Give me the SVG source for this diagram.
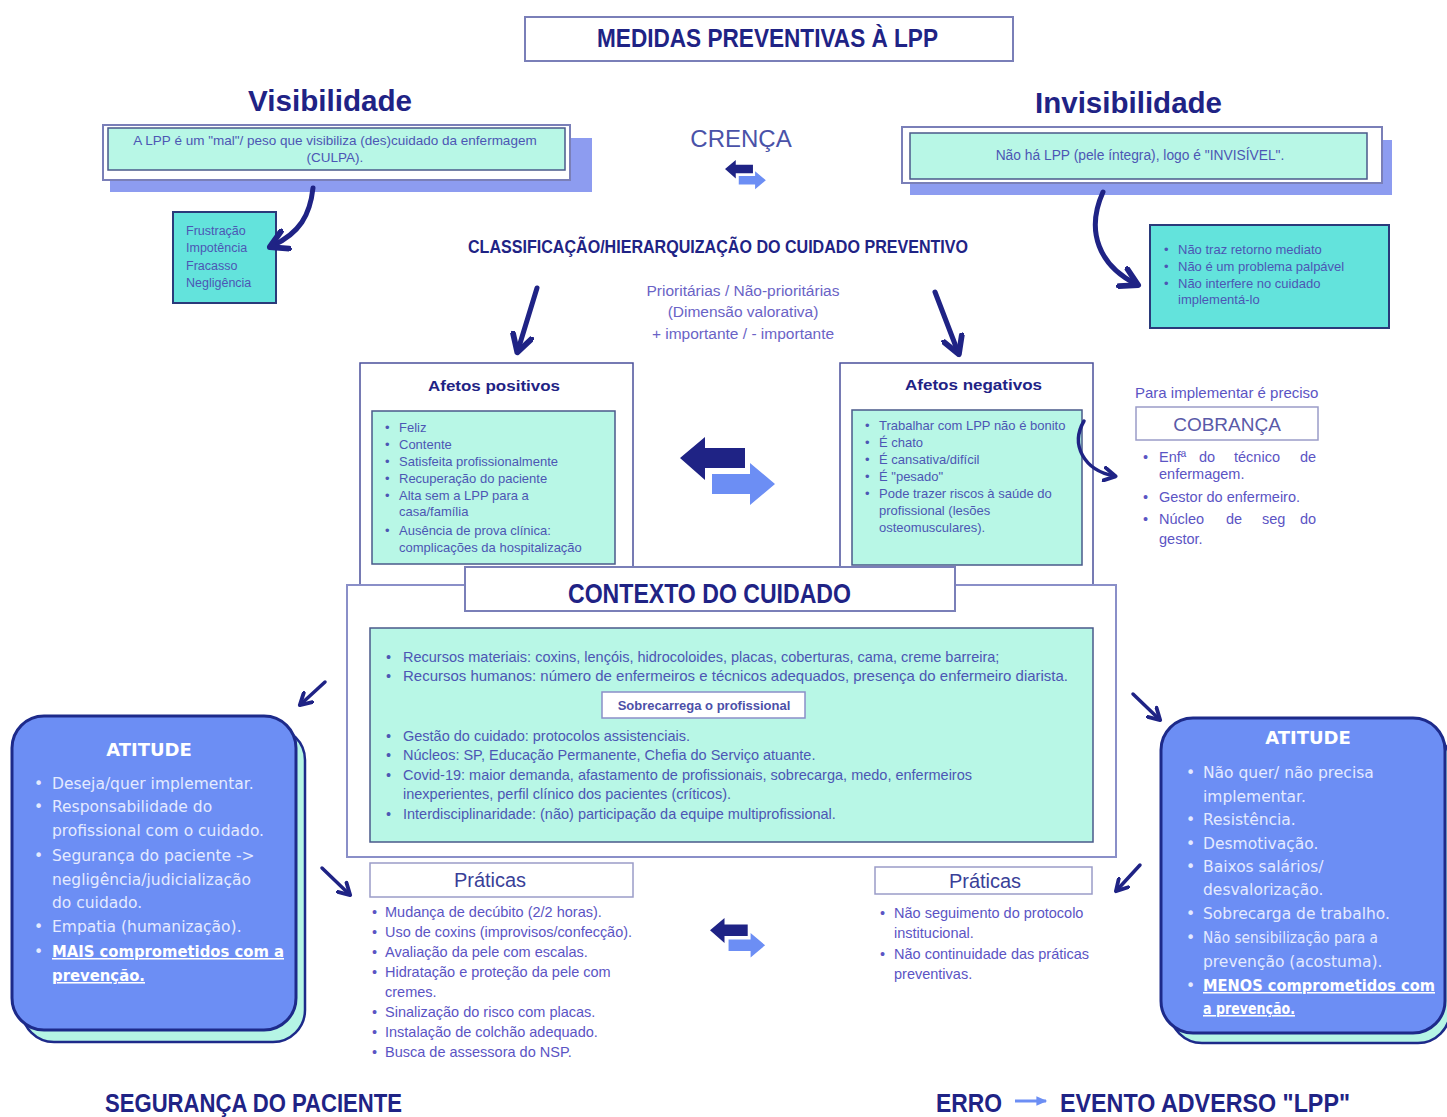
<svg xmlns="http://www.w3.org/2000/svg" width="1447" height="1117" viewBox="0 0 1447 1117">
<style>
.h{font-family:"Liberation Sans",Arial,sans-serif;font-weight:bold;fill:#1f2385}
.b{font-family:"Liberation Sans",Arial,sans-serif;fill:#4c56b4}
.p{font-family:"Liberation Sans",Arial,sans-serif;fill:#5b54c4}
.w{font-family:"DejaVu Sans",sans-serif;fill:#e4eaff;font-size:15.5px}
.wu{font-family:"DejaVu Sans",sans-serif;fill:#ffffff;font-size:15.5px;font-weight:bold;text-decoration:underline}
.wh{font-family:"DejaVu Sans",sans-serif;font-weight:bold;fill:#ffffff;font-size:18px}
.box{fill:#ffffff;stroke:#7a7fb8;stroke-width:2}
.obox{fill:#ffffff;stroke:#4a4f9a;stroke-width:1.5}
.mint{fill:#b8f7e6;stroke:#4a5a8a;stroke-width:1.5}
.cyan{fill:#63e3dc;stroke:#2a3a7a;stroke-width:2}
.shad{fill:#8d9cf0}
.att{fill:#6c8ef4;stroke:#1d2a8a;stroke-width:3}
.atts{fill:#b5f5e5;stroke:#1d2a8a;stroke-width:2.5}
.arr{fill:none;stroke:#1f2385;stroke-width:5;stroke-linecap:round}
.arrs{fill:none;stroke:#1f2385;stroke-width:3.5;stroke-linecap:round}
</style>
<defs>
<marker id="hd" viewBox="0 0 10 10" refX="7" refY="5" markerWidth="24" markerHeight="24" markerUnits="userSpaceOnUse" orient="auto">
<path d="M1,1 L8,5 L1,9" fill="none" stroke="#1f2385" stroke-width="2.4" stroke-linecap="round" stroke-linejoin="round"/>
</marker>
<marker id="hs" viewBox="0 0 10 10" refX="7" refY="5" markerWidth="16" markerHeight="16" markerUnits="userSpaceOnUse" orient="auto">
<path d="M1,1 L8,5 L1,9" fill="none" stroke="#1f2385" stroke-width="2.4" stroke-linecap="round" stroke-linejoin="round"/>
</marker>
<marker id="hl" viewBox="0 0 10 10" refX="8" refY="5" markerWidth="12" markerHeight="12" markerUnits="userSpaceOnUse" orient="auto">
<path d="M0,1 L9,5 L0,9 Z" fill="#6c8ef4"/>
</marker>
<g id="dbl">
<polygon points="95,47 70,26 70,37 32,37 32,57 70,57 70,68" fill="#6c8ef4"/>
<polygon points="0,21 25,0 25,11 65,11 65,31 25,31 25,43" fill="#1f2385"/>
</g>
</defs>
<rect width="1447" height="1117" fill="#ffffff"/>

<g id="title">
<rect class="box" x="525" y="17" width="488" height="44"/>
<text class="h" x="597" y="47" font-size="26" textLength="341" lengthAdjust="spacingAndGlyphs">MEDIDAS PREVENTIVAS À LPP</text>
</g>

<g id="visibilidade">
<text class="h" x="248" y="111" font-size="30" textLength="164" lengthAdjust="spacingAndGlyphs">Visibilidade</text>
<rect class="shad" x="110" y="138" width="482" height="54"/>
<rect class="box" x="103" y="125" width="467" height="55" stroke="#6a70b0"/>
<rect class="mint" x="108" y="128" width="457" height="42"/>
<text class="b" x="335" y="145" font-size="13.5" text-anchor="middle">A LPP é um "mal"/ peso que visibiliza (des)cuidado da enfermagem</text>
<text class="b" x="335" y="162" font-size="13.5" text-anchor="middle">(CULPA).</text>
</g>

<g id="frustracao">
<rect class="cyan" x="173" y="212" width="103" height="91"/>
<text class="b" x="186" y="235" font-size="12.5">Frustração</text>
<text class="b" x="186" y="252" font-size="12.5">Impotência</text>
<text class="b" x="186" y="270" font-size="12.5">Fracasso</text>
<text class="b" x="186" y="287" font-size="12.5">Negligência</text>
</g>

<g id="invisibilidade">
<text class="h" x="1035" y="113" font-size="30" textLength="187" lengthAdjust="spacingAndGlyphs">Invisibilidade</text>
<rect class="shad" x="910" y="140" width="482" height="55"/>
<rect class="box" x="902" y="127" width="480" height="56" stroke="#6a70b0"/>
<rect class="mint" x="910" y="133" width="457" height="46"/>
<text class="b" x="1140" y="160" font-size="13.8" text-anchor="middle">Não há LPP (pele íntegra), logo é "INVISÍVEL".</text>
</g>

<g id="invis-lista">
<rect class="cyan" x="1150" y="225" width="239" height="103"/>
<g class="b" font-size="13">
<text x="1164" y="254">•</text><text x="1178" y="254">Não traz retorno mediato</text>
<text x="1164" y="271">•</text><text x="1178" y="271">Não é um problema palpável</text>
<text x="1164" y="288">•</text><text x="1178" y="288">Não interfere no cuidado</text>
<text x="1178" y="304">implementá-lo</text>
</g>
</g>

<g id="crenca">
<text x="741" y="147" font-family="Liberation Sans, Arial, sans-serif" font-size="24" fill="#4a52a8" text-anchor="middle">CRENÇA</text>
<use href="#dbl" transform="translate(725,160) scale(0.43)"/>
</g>

<g id="classificacao">
<text class="h" x="468" y="253" font-size="19" textLength="500" lengthAdjust="spacingAndGlyphs">CLASSIFICAÇÃO/HIERARQUIZAÇÃO DO CUIDADO PREVENTIVO</text>
<g font-family="Liberation Sans, Arial, sans-serif" font-size="15.5" fill="#6a63c6" text-anchor="middle">
<text x="743" y="296">Prioritárias / Não-prioritárias</text>
<text x="743" y="317">(Dimensão valorativa)</text>
<text x="743" y="339">+ importante / - importante</text>
</g>
</g>

<g id="afetos-positivos">
<rect class="obox" x="360" y="363" width="273" height="222"/>
<text class="h" x="428" y="391" font-size="15" textLength="132" lengthAdjust="spacingAndGlyphs">Afetos positivos</text>
<rect class="mint" x="372" y="411" width="243" height="153"/>
<g class="b" font-size="13">
<text x="385" y="432">•</text><text x="399" y="432">Feliz</text>
<text x="385" y="449">•</text><text x="399" y="449">Contente</text>
<text x="385" y="466">•</text><text x="399" y="466">Satisfeita profissionalmente</text>
<text x="385" y="483">•</text><text x="399" y="483">Recuperação do paciente</text>
<text x="385" y="500">•</text><text x="399" y="500">Alta sem a LPP para a</text>
<text x="399" y="516">casa/família</text>
<text x="385" y="535">•</text><text x="399" y="535">Ausência de prova clínica:</text>
<text x="399" y="552">complicações da hospitalização</text>
</g>
</g>

<g id="afetos-negativos">
<rect class="obox" x="840" y="363" width="253" height="222"/>
<text class="h" x="905" y="390" font-size="15" textLength="137" lengthAdjust="spacingAndGlyphs">Afetos negativos</text>
<rect class="mint" x="852" y="410" width="230" height="155"/>
<g class="b" font-size="13">
<text x="865" y="430">•</text><text x="879" y="430">Trabalhar com LPP não é bonito</text>
<text x="865" y="447">•</text><text x="879" y="447">É chato</text>
<text x="865" y="464">•</text><text x="879" y="464">É cansativa/difícil</text>
<text x="865" y="481">•</text><text x="879" y="481">É "pesado"</text>
<text x="865" y="498">•</text><text x="879" y="498">Pode trazer riscos à saúde do</text>
<text x="879" y="515">profissional (lesões</text>
<text x="879" y="532">osteomusculares).</text>
</g>
</g>

<g id="cobranca">
<text class="p" x="1135" y="398" font-size="15">Para implementar é preciso</text>
<rect x="1136" y="407" width="182" height="33" fill="#ffffff" stroke="#9a9cc8" stroke-width="1.5"/>
<text x="1227" y="431" font-family="Liberation Sans, Arial, sans-serif" font-size="19" fill="#5a5aa8" text-anchor="middle">COBRANÇA</text>
<g class="p" font-size="14.5">
<text x="1143" y="462">•</text><text x="1159" y="462">Enfª</text><text x="1199" y="462">do</text><text x="1234" y="462">técnico</text><text x="1300" y="462">de</text>
<text x="1159" y="479">enfermagem.</text>
<text x="1143" y="502">•</text><text x="1159" y="502">Gestor do enfermeiro.</text>
<text x="1143" y="524">•</text><text x="1159" y="524">Núcleo</text><text x="1226" y="524">de</text><text x="1262" y="524">seg</text><text x="1300" y="524">do</text>
<text x="1159" y="544">gestor.</text>
</g>
</g>

<g id="troca-central">
<use href="#dbl" transform="translate(680,437)"/>
</g>

<g id="contexto">
<rect x="347" y="585" width="769" height="272" fill="#ffffff" stroke="#8a8fc8" stroke-width="2"/>
<rect class="box" x="465" y="567" width="490" height="44"/>
<text class="h" x="568" y="603" font-size="28" textLength="283" lengthAdjust="spacingAndGlyphs">CONTEXTO DO CUIDADO</text>
<rect class="mint" x="370" y="628" width="723" height="214" stroke-width="2"/>
<g class="b" font-size="14.5">
<text x="386" y="662">•</text><text x="403" y="662">Recursos materiais: coxins, lençóis, hidrocoloides, placas, coberturas, cama, creme barreira;</text>
<text x="386" y="681">•</text><text x="403" y="681" textLength="665" lengthAdjust="spacingAndGlyphs">Recursos humanos: número de enfermeiros e técnicos adequados, presença do enfermeiro diarista.</text>
<text x="386" y="741">•</text><text x="403" y="741">Gestão do cuidado: protocolos assistenciais.</text>
<text x="386" y="760">•</text><text x="403" y="760">Núcleos: SP, Educação Permanente, Chefia do Serviço atuante.</text>
<text x="386" y="780">•</text><text x="403" y="780">Covid-19: maior demanda, afastamento de profissionais, sobrecarga, medo, enfermeiros</text>
<text x="403" y="799">inexperientes, perfil clínico dos pacientes (críticos).</text>
<text x="386" y="819">•</text><text x="403" y="819">Interdisciplinaridade: (não) participação da equipe multiprofissional.</text>
</g>
</g>

<g id="sobrecarrega">
<rect x="602" y="692" width="203" height="26" fill="#ffffff" stroke="#8a8fc8" stroke-width="1.5"/>
<text x="704" y="710" font-family="Liberation Sans, Arial, sans-serif" font-weight="bold" font-size="13" fill="#4c50a8" text-anchor="middle">Sobrecarrega o profissional</text>
</g>

<g id="atitude-esq">
<rect class="atts" x="22" y="728" width="283" height="314" rx="32"/>
<rect class="att" x="12" y="716" width="284" height="314" rx="32"/>
<text class="wh" x="149" y="756" text-anchor="middle">ATITUDE</text>
<text class="w" x="34" y="789">•</text><text class="w" x="52" y="789">Deseja/quer implementar.</text>
<text class="w" x="34" y="812">•</text><text class="w" x="52" y="812">Responsabilidade do</text>
<text class="w" x="52" y="836">profissional com o cuidado.</text>
<text class="w" x="34" y="861">•</text><text class="w" x="52" y="861">Segurança do paciente -&gt;</text>
<text class="w" x="52" y="885">negligência/judicialização</text>
<text class="w" x="52" y="908">do cuidado.</text>
<text class="w" x="34" y="932">•</text><text class="w" x="52" y="932">Empatia (humanização).</text>
<text class="w" x="34" y="957">•</text><text class="wu" x="52" y="957" textLength="232" lengthAdjust="spacingAndGlyphs">MAIS comprometidos com a</text>
<text class="wu" x="52" y="981" textLength="93" lengthAdjust="spacingAndGlyphs">prevenção.</text>
</g>

<g id="atitude-dir">
<rect class="atts" x="1170" y="730" width="280" height="313" rx="32"/>
<rect class="att" x="1161" y="718" width="284" height="315" rx="32"/>
<text class="wh" x="1308" y="744" text-anchor="middle">ATITUDE</text>
<text class="w" x="1186" y="778">•</text><text class="w" x="1203" y="778">Não quer/ não precisa</text>
<text class="w" x="1203" y="802">implementar.</text>
<text class="w" x="1186" y="825">•</text><text class="w" x="1203" y="825">Resistência.</text>
<text class="w" x="1186" y="849">•</text><text class="w" x="1203" y="849">Desmotivação.</text>
<text class="w" x="1186" y="872">•</text><text class="w" x="1203" y="872">Baixos salários/</text>
<text class="w" x="1203" y="895">desvalorização.</text>
<text class="w" x="1186" y="919">•</text><text class="w" x="1203" y="919">Sobrecarga de trabalho.</text>
<text class="w" x="1186" y="943">•</text><text class="w" x="1203" y="943" textLength="175" lengthAdjust="spacingAndGlyphs">Não sensibilização para a</text>
<text class="w" x="1203" y="967">prevenção (acostuma).</text>
<text class="w" x="1186" y="991">•</text><text class="wu" x="1203" y="991" textLength="232" lengthAdjust="spacingAndGlyphs">MENOS comprometidos com</text>
<text class="wu" x="1203" y="1014" textLength="92" lengthAdjust="spacingAndGlyphs">a prevenção.</text>
</g>

<g id="praticas-esq">
<rect x="370" y="863" width="263" height="34" fill="#ffffff" stroke="#9a9cc8" stroke-width="1.5"/>
<text x="490" y="887" font-family="Liberation Sans, Arial, sans-serif" font-size="20" fill="#3a3f98" text-anchor="middle">Práticas</text>
<g class="p" font-size="14.5">
<text x="372" y="917">•</text><text x="385" y="917">Mudança de decúbito (2/2 horas).</text>
<text x="372" y="937">•</text><text x="385" y="937" textLength="247" lengthAdjust="spacingAndGlyphs">Uso de coxins (improvisos/confecção).</text>
<text x="372" y="957">•</text><text x="385" y="957">Avaliação da pele com escalas.</text>
<text x="372" y="977">•</text><text x="385" y="977">Hidratação e proteção da pele com</text>
<text x="385" y="997">cremes.</text>
<text x="372" y="1017">•</text><text x="385" y="1017">Sinalização do risco com placas.</text>
<text x="372" y="1037">•</text><text x="385" y="1037">Instalação de colchão adequado.</text>
<text x="372" y="1057">•</text><text x="385" y="1057">Busca de assessora do NSP.</text>
</g>
</g>

<g id="praticas-dir">
<rect x="875" y="867" width="217" height="27" fill="#ffffff" stroke="#9a9cc8" stroke-width="1.5"/>
<text x="985" y="888" font-family="Liberation Sans, Arial, sans-serif" font-size="20" fill="#3a3f98" text-anchor="middle">Práticas</text>
<g class="p" font-size="14.5">
<text x="880" y="918">•</text><text x="894" y="918">Não seguimento do protocolo</text>
<text x="894" y="938">institucional.</text>
<text x="880" y="959">•</text><text x="894" y="959">Não continuidade das práticas</text>
<text x="894" y="979">preventivas.</text>
</g>
</g>

<g id="troca-praticas">
<use href="#dbl" transform="translate(710,918) scale(0.58)"/>
</g>

<g id="rodape">
<text class="h" x="105" y="1112" font-size="25" textLength="297" lengthAdjust="spacingAndGlyphs">SEGURANÇA DO PACIENTE</text>
<text class="h" x="936" y="1112" font-size="25" textLength="66" lengthAdjust="spacingAndGlyphs">ERRO</text>
<text class="h" x="1060" y="1112" font-size="25" textLength="290" lengthAdjust="spacingAndGlyphs">EVENTO ADVERSO "LPP"</text>
</g>

<g id="conectores">
<path class="arr" d="M313,188 C310,215 300,233 272,246" marker-end="url(#hd)"/>
<path class="arr" d="M1103,192 C1085,232 1100,266 1136,284" marker-end="url(#hd)"/>
<path class="arrs" d="M1084,421 C1070,445 1084,470 1114,476" marker-end="url(#hs)"/>
<path class="arr" d="M537,288 L518,350" marker-end="url(#hd)"/>
<path class="arr" d="M935,292 L958,352" marker-end="url(#hd)"/>
<path class="arrs" d="M325,682 L301,704" marker-end="url(#hs)"/>
<path class="arrs" d="M1133,694 L1159,719" marker-end="url(#hs)"/>
<path class="arrs" d="M322,868 L349,894" marker-end="url(#hs)"/>
<path class="arrs" d="M1140,865 L1117,890" marker-end="url(#hs)"/>
<path d="M1015,1101 L1046,1101" stroke="#6c8ef4" stroke-width="3" marker-end="url(#hl)"/>
</g>
</svg>
